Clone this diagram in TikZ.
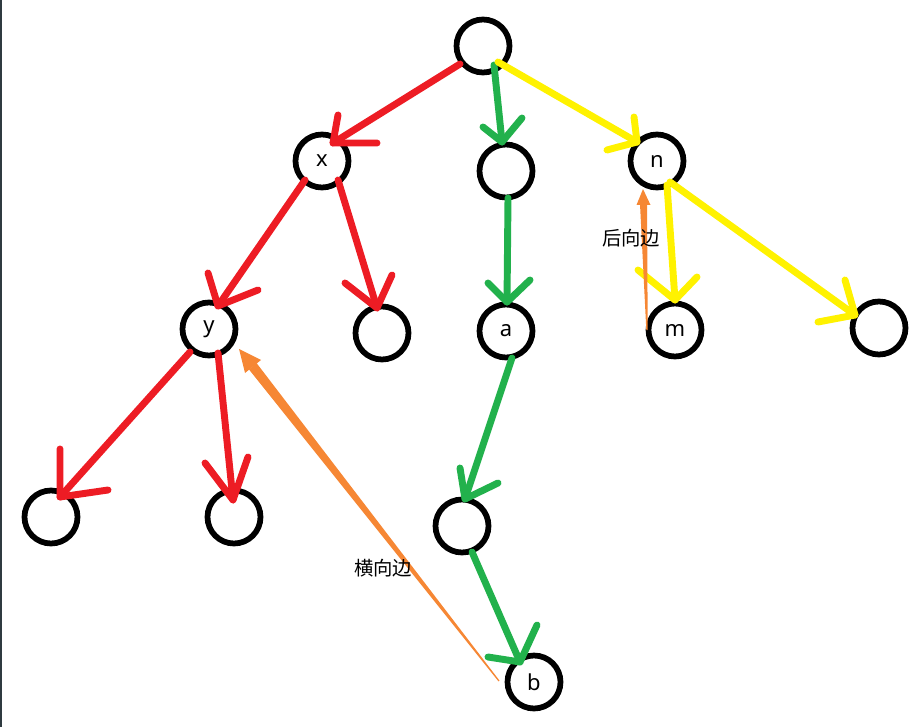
\documentclass[tikz,border=0pt]{standalone}
\usepackage{fontspec}
\setmainfont{Noto Sans}
\newfontfamily\cjk{Noto Sans CJK SC}
\usetikzlibrary{calc}
\definecolor{pRed}{RGB}{237,28,36}
\definecolor{pGreen}{RGB}{34,177,76}
\definecolor{pYellow}{RGB}{255,242,0}
\definecolor{pOrange}{RGB}{246,135,52}
\definecolor{frameGray}{RGB}{47,58,64}
\begin{document}
\begin{tikzpicture}[x=0.75pt,y=-0.75pt,
  vtx/.style={circle,draw=black,line width=4.3pt,minimum size=39.75pt,
    inner sep=0pt,font=\fontsize{16.5}{18}\selectfont},
  edge/.style={line width=5.2pt,line cap=round,line join=round},
  redE/.style={edge,draw=pRed},
  greenE/.style={edge,draw=pGreen},
  yellowE/.style={edge,draw=pYellow},
  tag/.style={font=\cjk\fontsize{14.5}{16}\selectfont,inner sep=0pt}]
\useasboundingbox (0,0) rectangle (920,727);
\fill[frameGray] (0,0) rectangle (2,727);

% vertices
\node[vtx] (r0) at (483,46) {};
\node[vtx] (x)  at (322,161) {x};
\node[vtx] (c1) at (506,171) {};
\node[vtx] (n)  at (657,161) {n};
\node[vtx] (y)  at (209,329) {y};
\node[vtx] (c2) at (382,333) {};
\node[vtx] (a)  at (506,331) {a};
\node[vtx] (m)  at (675,330) {m};
\node[vtx] (c3) at (879,328) {};
\node[vtx] (c4) at (51,517) {};
\node[vtx] (c5) at (234,517) {};
\node[vtx] (c6) at (462,526) {};
\node[vtx] (b)  at (534,682) {b};

% red tree edges
\draw[redE] ($(r0)+(-23,18)$) -- ($(x)+(11,-18)$) coordinate (h1);
\draw[redE] ($(h1)+(5,-28)$) -- (h1) -- +(44,0);
\draw[redE] ($(x)+(-17,19)$) -- ($(y)+(9,-23)$) coordinate (h2);
\draw[redE] ($(h2)+(-10,-33)$) -- (h2) -- +(40,-16);
\draw[redE] ($(x)+(16,19)$) -- ($(c2)+(-5,-25)$) coordinate (h3);
\draw[redE] ($(h3)+(-32,-25)$) -- (h3) -- +(15,-33);
\draw[redE] ($(y)+(-19,23)$) -- ($(c4)+(9,-20)$) coordinate (h4);
\draw[redE] ($(h4)+(0,-48)$) -- (h4) -- +(48,-7);
\draw[redE] ($(y)+(9,24)$) -- ($(c5)+(-1,-17)$) coordinate (h5);
\draw[redE] ($(h5)+(-28,-37)$) -- (h5) -- +(15,-43);

% green tree edges
\draw[greenE] ($(r0)+(11,19)$) -- ($(c1)+(-4,-29)$) coordinate (h6);
\draw[greenE] ($(h6)+(-19,-15)$) -- (h6) -- +(20,-24);
\draw[greenE] ($(c1)+(2,27)$) -- ($(a)+(1,-29)$) coordinate (h7);
\draw[greenE] ($(h7)+(-19,-19)$) -- (h7) -- +(23,-22);
\draw[greenE] ($(a)+(6,27)$) -- ($(c6)+(3,-27)$) coordinate (h8);
\draw[greenE] ($(h8)+(-5,-31)$) -- (h8) -- +(33,-16);
\draw[greenE] ($(c6)+(10,26)$) -- ($(b)+(-14,-20)$) coordinate (h9);
\draw[greenE] ($(h9)+(-32,-5)$) -- (h9) -- +(17,-37);

% yellow tree edges
\draw[yellowE] ($(r0)+(15,16)$) -- ($(n)+(-20,-19)$) coordinate (h10);
\draw[yellowE] ($(h10)+(-3,-25)$) -- (h10) -- +(-30,8);
\draw[yellowE] ($(n)+(10,24)$) -- ($(m)+(0,-30)$) coordinate (h11);
\draw[yellowE] ($(h11)+(-37,-30)$) -- (h11) -- +(22,-23);
\draw[yellowE] ($(n)+(13,21)$) -- ($(c3)+(-24,-13)$) coordinate (h12);
\draw[yellowE] ($(h12)+(-10,-35)$) -- (h12) -- +(-37,7);

% back edge m -> n (tapered, filled head)
\fill[pOrange] ($(n)+(-14,28)$) -- ($(n)+(-20.5,44)$) -- ($(n)+(-6.5,44)$) -- cycle;
\fill[pOrange] ($(n)+(-17,43)$) -- ($(n)+(-10,43)$) -- ($(m)+(-27.3,0)$) -- ($(m)+(-28.7,0)$) -- cycle;

% cross edge b -> y (tapered, filled head)
\fill[pOrange] ($(y)+(30,20)$) -- ($(y)+(52,31)$) -- ($(y)+(36,44)$) -- cycle;
\fill[pOrange] ($(y)+(47.5,34)$) -- ($(b)+(-34.5,-1.4)$) -- ($(b)+(-35.5,-0.6)$) -- ($(y)+(40,40.5)$) -- cycle;

% edge labels
\node[tag] (back)  at (631,238) {后向边};
\node[tag] (cross) at (383,568) {横向边};
\end{tikzpicture}
\end{document}
